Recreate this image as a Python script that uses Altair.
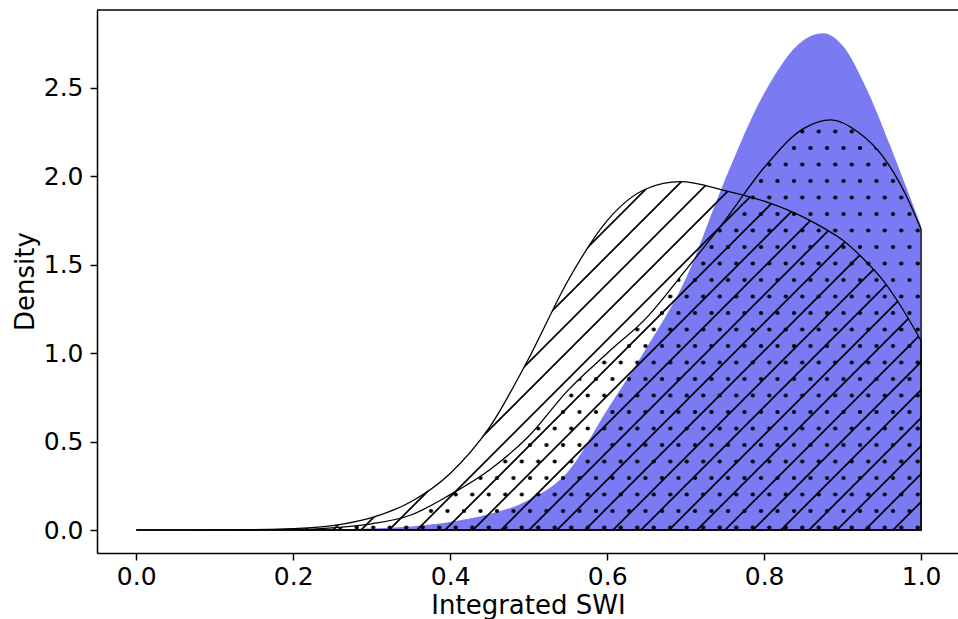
import altair as alt
import pandas as pd

# ---------------- data ----------------
blue_x = [0.0, 0.2, 0.3, 0.35, 0.4, 0.45, 0.5, 0.55, 0.6, 0.65, 0.7, 0.75, 0.8, 0.85, 0.875, 0.9, 0.93, 0.96, 0.98, 1.0]
blue_y = [0.0, 0.001, 0.008, 0.02, 0.045, 0.09, 0.17, 0.33, 0.68, 1.03, 1.42, 1.98, 2.47, 2.77, 2.81, 2.74, 2.5, 2.18, 1.95, 1.72]

dot_x = [0.0, 0.2, 0.25, 0.3, 0.35, 0.4, 0.45, 0.5, 0.55, 0.6, 0.65, 0.7, 0.75, 0.8, 0.85, 0.885, 0.92, 0.95, 0.98, 1.0]
dot_y = [0.0, 0.003, 0.012, 0.035, 0.085, 0.2, 0.34, 0.53, 0.79, 1.0, 1.2, 1.47, 1.75, 2.05, 2.27, 2.32, 2.25, 2.12, 1.9, 1.7]

hatch_x = [0.0, 0.15, 0.2, 0.25, 0.3, 0.35, 0.4, 0.45, 0.5, 0.55, 0.6, 0.65, 0.693, 0.75, 0.8, 0.85, 0.875, 0.9, 0.925, 0.95, 0.975, 1.0]
hatch_y = [0.0, 0.002, 0.008, 0.025, 0.07, 0.16, 0.32, 0.58, 0.97, 1.41, 1.75, 1.93, 1.97, 1.92, 1.86, 1.77, 1.71, 1.64, 1.54, 1.42, 1.26, 1.07]

x_ticks = [0.0, 0.2, 0.4, 0.6, 0.8, 1.0]
y_ticks = [0.0, 0.5, 1.0, 1.5, 2.0, 2.5]

x_title = "Integrated SWI"
y_title = "Density"

# ---------------- hatch patterns (SVG defs added to the page) ----------------
PATTERN_DEFS = (
    '<svg width="0" height="0" style="position:absolute;left:0;top:0" aria-hidden="true"><defs>'
    '<pattern id="dotHatch" patternUnits="userSpaceOnUse" width="16.5" height="33">'
    '<circle cx="4" cy="6" r="2.1" fill="#000"/>'
    '<circle cx="12.25" cy="22.5" r="2.1" fill="#000"/>'
    '</pattern>'
    '<pattern id="slashHatch" patternUnits="userSpaceOnUse" width="28" height="28">'
    '<path d="M-7,7 L7,-7 M0,28 L28,0 M21,35 L35,21" stroke="#000" stroke-width="1.7" fill="none"/>'
    '</pattern>'
    '</defs></svg>'
)

try:
    from altair.utils import html as _alt_html
    _tpl = _alt_html.TEMPLATES["standard"]
    _orig_render = _tpl.render

    def _render(*args, **kwargs):
        out = _orig_render(*args, **kwargs)
        if "<body>" in out:
            return out.replace("<body>", "<body>\n" + PATTERN_DEFS, 1)
        return out + PATTERN_DEFS

    _tpl.render = _render
except Exception:
    pass

# ---------------- chart ----------------
W, H = 861, 543

df_blue = pd.DataFrame({"x": blue_x, "y": blue_y})
df_dot = pd.DataFrame({"x": dot_x, "y": dot_y})
df_hatch = pd.DataFrame({"x": hatch_x, "y": hatch_y})

xscale = alt.Scale(domain=[-0.05, 1.047], nice=False, zero=False)
yscale = alt.Scale(domain=[-0.13, 2.941], nice=False, zero=False)

X = alt.X(
    "x:Q", scale=xscale,
    axis=alt.Axis(values=x_ticks, format=".1f", title=x_title, labelPadding=4,
                  titleX=431, titleY=60, titleBaseline="alphabetic"),
)
Y = alt.Y(
    "y:Q", scale=yscale,
    axis=alt.Axis(values=y_ticks, format=".1f", title=y_title, labelPadding=7,
                  titleX=-64, titleY=271, titleAngle=-90, titleBaseline="alphabetic"),
)

blue = alt.Chart(df_blue).mark_area(
    interpolate="monotone", color="#7a7af2", opacity=1
).encode(x=X, y=Y, y2=alt.datum(0))

dotted = alt.Chart(df_dot).mark_area(
    interpolate="monotone", fill="url(#dotHatch)", stroke="black", strokeWidth=1.3
).encode(x=X, y=Y, y2=alt.datum(0))

hatched = alt.Chart(df_hatch).mark_area(
    interpolate="monotone", fill="url(#slashHatch)", stroke="black", strokeWidth=1.3
).encode(x=X, y=Y, y2=alt.datum(0))

top_border = alt.Chart(pd.DataFrame({"a": [0]})).mark_rule(
    color="black", strokeWidth=1.5
).encode(x=alt.value(0), x2=alt.value(W), y=alt.value(0))

chart = alt.layer(blue, dotted, hatched, top_border).properties(
    width=W, height=H,
    padding={"left": 97, "top": 10, "right": 0, "bottom": 66},
    autosize=alt.AutoSizeParams(type="none"),
).configure_view(stroke=None).configure_axis(
    grid=False,
    domainColor="black", domainWidth=1.5,
    tickColor="black", tickWidth=1.5, tickSize=7,
    labelFont="DejaVu Sans", labelFontSize=25, labelColor="black",
    titleFont="DejaVu Sans", titleFontSize=26, titleFontWeight="normal", titleColor="black",
)

chart.save("out.html", embed_options={"renderer": "svg", "actions": False})
